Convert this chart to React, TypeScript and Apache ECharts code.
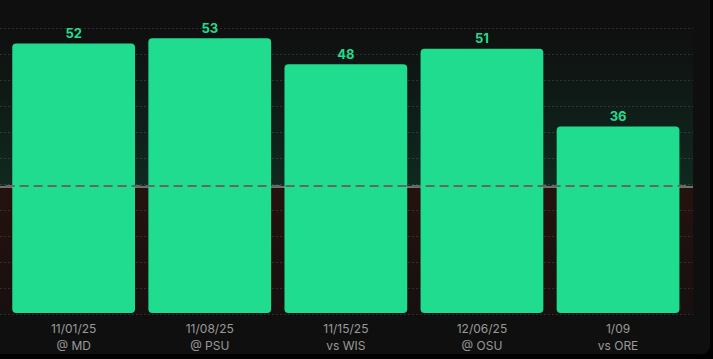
import React, { useEffect, useRef } from "react";
import * as echarts from "echarts";

const dates = ["11/01/25", "11/08/25", "11/15/25", "12/06/25", "1/09"];
const opponents = ["@ MD", "@ PSU", "vs WIS", "@ OSU", "vs ORE"];
const values = [52, 53, 48, 51, 36];
const threshold = 24.5;
const yMin = 0;
const yMax = 55;
const yInterval = 5;

export default function App() {
  const ref = useRef<HTMLDivElement>(null);
  useEffect(() => {
    document.body.style.margin = "0";
    document.body.style.background = "#000";
    const chart = echarts.init(ref.current!, null, { renderer: "svg" });
    const font = "Inter, 'Noto Sans', sans-serif";
    chart.setOption({
      animation: false,
      backgroundColor: "transparent",
      textStyle: { fontFamily: font },
      grid: [
        { left: 0, top: 28, width: 693, height: 286, containLabel: false },
        { left: 5.6, top: 28, width: 680.5, height: 286, containLabel: false },
      ],
      xAxis: [
        { gridIndex: 0, type: "value", min: 0, max: 1, show: false },
        {
          gridIndex: 1,
          type: "category",
          data: dates,
          axisLine: { show: false },
          axisTick: { show: false },
          axisLabel: {
            color: "#9a9a9a",
            fontSize: 12,
            lineHeight: 17,
            margin: 7,
            fontFamily: font,
            formatter: (v: string, i: number) => `${v}\n${opponents[i]}`,
          },
        },
      ],
      yAxis: [
        {
          gridIndex: 0,
          type: "value",
          min: yMin,
          max: yMax,
          interval: yInterval,
          axisLine: { show: false },
          axisTick: { show: false },
          axisLabel: { show: false },
          splitLine: { show: true, lineStyle: { color: "#2e2e2e", type: [2, 2], width: 1 } },
        },
        {
          gridIndex: 1,
          type: "value",
          min: yMin,
          max: yMax,
          interval: yInterval,
          show: false,
          splitLine: { show: false },
        },
      ],
      series: [
        {
          type: "line",
          xAxisIndex: 0,
          yAxisIndex: 0,
          data: [],
          z: 0,
          silent: true,
          markArea: {
            silent: true,
            z: 0,
            data: [
              [
                {
                  yAxis: threshold,
                  itemStyle: {
                    color: new echarts.graphic.LinearGradient(0, 0, 0, 1, [
                      { offset: 0, color: "rgba(20,220,140,0.0)" },
                      { offset: 1, color: "rgba(20,220,140,0.13)" },
                    ]),
                  },
                },
                { yAxis: yMax },
              ],
              [
                {
                  yAxis: yMin,
                  itemStyle: {
                    color: new echarts.graphic.LinearGradient(0, 0, 0, 1, [
                      { offset: 0, color: "rgba(200,40,10,0.12)" },
                      { offset: 1, color: "rgba(200,40,10,0.04)" },
                    ]),
                  },
                },
                { yAxis: threshold },
              ],
            ],
          },
          markLine: {
            silent: true,
            z: 1,
            symbol: "none",
            label: { show: false },
            lineStyle: { color: "#707070", type: "solid", width: 2 },
            data: [{ yAxis: threshold }],
          },
        },
        {
          type: "bar",
          xAxisIndex: 1,
          yAxisIndex: 1,
          data: values,
          z: 3,
          barCategoryGap: "9.8%",
          itemStyle: { color: "#20dc8f", borderRadius: 4 },
          label: {
            show: true,
            position: "top",
            distance: 4,
            color: "#20dc8f",
            fontSize: 13,
            fontWeight: "bold",
            fontFamily: font,
          },
        },
        {
          type: "line",
          xAxisIndex: 1,
          yAxisIndex: 1,
          data: [],
          z: 10,
          silent: true,
          markLine: {
            silent: true,
            z: 10,
            symbol: "none",
            label: { show: false },
            lineStyle: { color: "#666666", type: [9, 5], width: 2 },
            data: [{ yAxis: threshold }],
          },
        },
      ],
    });
    return () => chart.dispose();
  }, []);
  return (
    <div style={{ width: 713, height: 359, background: "#000", position: "relative", overflow: "hidden" }}>
      <div
        ref={ref}
        style={{
          position: "absolute",
          left: 0,
          top: 0,
          width: 710,
          height: 354,
          background: "#0f0f0f",
          borderBottomRightRadius: 8,
        }}
      />
    </div>
  );
}
